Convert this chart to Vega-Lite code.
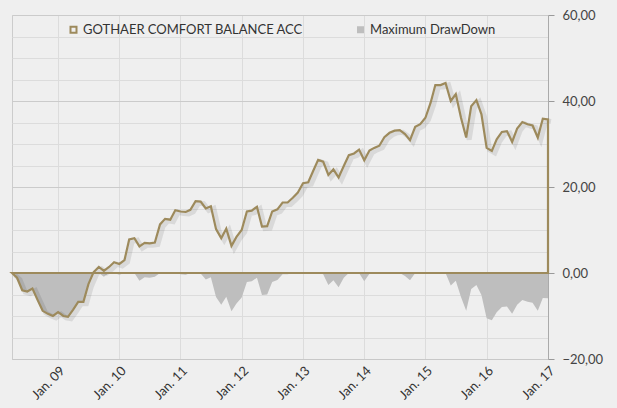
{
  "$schema": "https://vega.github.io/schema/vega-lite/v6.json",
  "width": 536,
  "height": 344,
  "autosize": {"type": "none"},
  "padding": {"left": 12, "top": 15, "right": 69, "bottom": 49},
  "background": "#efefef",
  "config": {
    "font": "Lato",
    "view": {"stroke": "#cccccc", "strokeWidth": 1},
    "legend": {
      "orient": "none",
      "legendX": 55,
      "legendY": 8,
      "direction": "horizontal",
      "padding": 0,
      "labelFontSize": 13,
      "labelLimit": 400,
      "labelColor": "#333333",
      "labelOffset": 3,
      "columnPadding": 50,
      "symbolStrokeWidth": 0
    },
    "axisY": {
      "title": null,
      "labelOverlap": false,
      "labelFontSize": 13,
      "labelColor": "#444444",
      "labelPadding": 8,
      "tickSize": 6,
      "domainColor": "#aaaaaa"
    }
  },
  "data": {
    "values": [
      {"d": "2008-04-01", "fund": 0, "dd": 0},
      {"d": "2008-05-01", "fund": -1.1, "dd": -1.1},
      {"d": "2008-06-01", "fund": -4.0, "dd": -4.0},
      {"d": "2008-07-01", "fund": -4.3, "dd": -4.3},
      {"d": "2008-08-01", "fund": -3.6, "dd": -3.6},
      {"d": "2008-09-01", "fund": -6.3, "dd": -6.3},
      {"d": "2008-10-01", "fund": -8.8, "dd": -8.8},
      {"d": "2008-11-01", "fund": -9.5, "dd": -9.5},
      {"d": "2008-12-01", "fund": -10.0, "dd": -10.0},
      {"d": "2009-01-01", "fund": -9.1, "dd": -9.1},
      {"d": "2009-02-01", "fund": -10.0, "dd": -10.0},
      {"d": "2009-03-01", "fund": -10.2, "dd": -10.2},
      {"d": "2009-04-01", "fund": -8.5, "dd": -8.5},
      {"d": "2009-05-01", "fund": -6.7, "dd": -6.7},
      {"d": "2009-06-01", "fund": -6.7, "dd": -6.7},
      {"d": "2009-07-01", "fund": -2.6, "dd": -2.6},
      {"d": "2009-08-01", "fund": 0.2, "dd": 0},
      {"d": "2009-09-01", "fund": 1.4, "dd": 0},
      {"d": "2009-10-01", "fund": 0.5, "dd": -0.9},
      {"d": "2009-11-01", "fund": 1.4, "dd": 0},
      {"d": "2009-12-01", "fund": 2.5, "dd": 0},
      {"d": "2010-01-01", "fund": 2.1, "dd": -0.4},
      {"d": "2010-02-01", "fund": 3.0, "dd": 0},
      {"d": "2010-03-01", "fund": 7.8, "dd": 0},
      {"d": "2010-04-01", "fund": 8.1, "dd": 0},
      {"d": "2010-05-01", "fund": 6.2, "dd": -1.8},
      {"d": "2010-06-01", "fund": 7.0, "dd": -1.0},
      {"d": "2010-07-01", "fund": 6.9, "dd": -1.1},
      {"d": "2010-08-01", "fund": 7.1, "dd": -0.9},
      {"d": "2010-09-01", "fund": 11.3, "dd": 0},
      {"d": "2010-10-01", "fund": 12.6, "dd": 0},
      {"d": "2010-11-01", "fund": 12.4, "dd": -0.2},
      {"d": "2010-12-01", "fund": 14.6, "dd": 0},
      {"d": "2011-01-01", "fund": 14.3, "dd": -0.3},
      {"d": "2011-02-01", "fund": 14.2, "dd": -0.4},
      {"d": "2011-03-01", "fund": 14.7, "dd": 0},
      {"d": "2011-04-01", "fund": 16.7, "dd": 0},
      {"d": "2011-05-01", "fund": 16.6, "dd": -0.1},
      {"d": "2011-06-01", "fund": 15.0, "dd": -1.5},
      {"d": "2011-07-01", "fund": 15.5, "dd": -1.0},
      {"d": "2011-08-01", "fund": 10.2, "dd": -5.6},
      {"d": "2011-09-01", "fund": 8.1, "dd": -7.4},
      {"d": "2011-10-01", "fund": 10.3, "dd": -5.5},
      {"d": "2011-11-01", "fund": 6.3, "dd": -8.9},
      {"d": "2011-12-01", "fund": 8.4, "dd": -7.1},
      {"d": "2012-01-01", "fund": 10.0, "dd": -5.7},
      {"d": "2012-02-01", "fund": 14.3, "dd": -2.1},
      {"d": "2012-03-01", "fund": 14.5, "dd": -1.9},
      {"d": "2012-04-01", "fund": 15.4, "dd": -1.1},
      {"d": "2012-05-01", "fund": 10.8, "dd": -5.1},
      {"d": "2012-06-01", "fund": 10.9, "dd": -5.0},
      {"d": "2012-07-01", "fund": 14.3, "dd": -2.1},
      {"d": "2012-08-01", "fund": 14.8, "dd": -1.6},
      {"d": "2012-09-01", "fund": 16.4, "dd": -0.3},
      {"d": "2012-10-01", "fund": 16.4, "dd": -0.3},
      {"d": "2012-11-01", "fund": 17.5, "dd": 0},
      {"d": "2012-12-01", "fund": 18.7, "dd": 0},
      {"d": "2013-01-01", "fund": 20.9, "dd": 0},
      {"d": "2013-02-01", "fund": 21.1, "dd": 0},
      {"d": "2013-03-01", "fund": 23.6, "dd": 0},
      {"d": "2013-04-01", "fund": 26.3, "dd": 0},
      {"d": "2013-05-01", "fund": 25.9, "dd": -0.3},
      {"d": "2013-06-01", "fund": 22.8, "dd": -2.8},
      {"d": "2013-07-01", "fund": 24.1, "dd": -1.7},
      {"d": "2013-08-01", "fund": 22.2, "dd": -3.3},
      {"d": "2013-09-01", "fund": 24.9, "dd": -1.1},
      {"d": "2013-10-01", "fund": 27.4, "dd": 0},
      {"d": "2013-11-01", "fund": 27.8, "dd": 0},
      {"d": "2013-12-01", "fund": 28.7, "dd": 0},
      {"d": "2014-01-01", "fund": 26.2, "dd": -1.9},
      {"d": "2014-02-01", "fund": 28.5, "dd": -0.2},
      {"d": "2014-03-01", "fund": 29.1, "dd": 0},
      {"d": "2014-04-01", "fund": 29.6, "dd": 0},
      {"d": "2014-05-01", "fund": 31.6, "dd": 0},
      {"d": "2014-06-01", "fund": 32.6, "dd": 0},
      {"d": "2014-07-01", "fund": 33.1, "dd": 0},
      {"d": "2014-08-01", "fund": 33.2, "dd": 0},
      {"d": "2014-09-01", "fund": 32.3, "dd": -0.7},
      {"d": "2014-10-01", "fund": 30.9, "dd": -1.7},
      {"d": "2014-11-01", "fund": 34.0, "dd": 0},
      {"d": "2014-12-01", "fund": 34.6, "dd": 0},
      {"d": "2015-01-01", "fund": 36.1, "dd": 0},
      {"d": "2015-02-01", "fund": 39.6, "dd": 0},
      {"d": "2015-03-01", "fund": 43.7, "dd": 0},
      {"d": "2015-04-01", "fund": 43.7, "dd": 0},
      {"d": "2015-05-01", "fund": 44.2, "dd": 0},
      {"d": "2015-06-01", "fund": 40.0, "dd": -2.9},
      {"d": "2015-07-01", "fund": 41.6, "dd": -1.8},
      {"d": "2015-08-01", "fund": 36.1, "dd": -5.6},
      {"d": "2015-09-01", "fund": 31.5, "dd": -8.8},
      {"d": "2015-10-01", "fund": 38.8, "dd": -3.7},
      {"d": "2015-11-01", "fund": 40.2, "dd": -2.8},
      {"d": "2015-12-01", "fund": 36.9, "dd": -5.1},
      {"d": "2016-01-01", "fund": 29.1, "dd": -10.5},
      {"d": "2016-02-01", "fund": 28.4, "dd": -11.0},
      {"d": "2016-03-01", "fund": 31.1, "dd": -9.1},
      {"d": "2016-04-01", "fund": 32.8, "dd": -7.9},
      {"d": "2016-05-01", "fund": 33.0, "dd": -7.8},
      {"d": "2016-06-01", "fund": 30.5, "dd": -9.5},
      {"d": "2016-07-01", "fund": 33.6, "dd": -7.4},
      {"d": "2016-08-01", "fund": 35.1, "dd": -6.3},
      {"d": "2016-09-01", "fund": 34.6, "dd": -6.7},
      {"d": "2016-10-01", "fund": 34.3, "dd": -6.9},
      {"d": "2016-11-01", "fund": 31.5, "dd": -8.8},
      {"d": "2016-12-01", "fund": 35.9, "dd": -5.8},
      {"d": "2017-01-01", "fund": 35.7, "dd": -5.9}
    ]
  },
  "encoding": {
    "x": {
      "field": "d",
      "type": "temporal",
      "scale": {
        "type": "utc",
        "domain": [
          {"year": 2008, "month": "apr", "date": 1, "utc": true},
          {"year": 2017, "month": "jan", "date": 1, "utc": true}
        ]
      },
      "axis": {
        "title": null,
        "format": "%b. %y",
        "labelAngle": -45,
        "tickCount": {"interval": "year", "step": 1},
        "grid": true,
        "gridColor": "#dcdcdc",
        "domainColor": "#c8c8c8",
        "ticks": false,
        "labelFontSize": 13,
        "labelColor": "#333333",
        "labelPadding": 5,
        "labelOverlap": false,
        "labelBound": false,
        "labelFlush": false
      }
    }
  },
  "layer": [
    {
      "mark": {"type": "area", "opacity": 1},
      "encoding": {
        "y": {
          "field": "dd",
          "type": "quantitative",
          "scale": {"domain": [-20, 60], "nice": false},
          "axis": {
            "orient": "right",
            "values": [-20, -15, -10, -5, 0, 5, 10, 15, 20, 25, 30, 35, 40, 45, 50, 55, 60],
            "labelExpr": "datum.value % 20 === 0 ? replace(format(datum.value, '.2f'), '.', ',') : ''",
            "tickColor": {"condition": {"test": "datum.value % 20 === 0", "value": "#999999"}, "value": "transparent"},
            "gridColor": {"condition": {"test": "datum.value % 20 === 0", "value": "#cbcbcb"}, "value": "#dcdcdc"}
          }
        },
        "color": {
          "datum": "Maximum DrawDown",
          "scale": {
            "domain": ["GOTHAER COMFORT BALANCE ACC", "Maximum DrawDown"],
            "range": ["#9d8a5c", "#bebebe"]
          },
          "legend": {
            "title": null,
            "symbolType": "square",
            "encode": {
              "symbols": {
                "update": {
                  "shape": {"signal": "datum.value === 'Maximum DrawDown' ? 'square' : 'M-1,-1H1V1H-1Z M-0.5,-0.5V0.5H0.5V-0.5Z'"},
                  "size": {"signal": "datum.value === 'Maximum DrawDown' ? 49 : 64"},
                  "strokeWidth": {"value": 0}
                }
              }
            }
          }
        }
      }
    },
    {
      "mark": {"type": "line", "color": "#000000", "opacity": 0.09, "strokeWidth": 5, "xOffset": 3, "yOffset": 2},
      "encoding": {
        "y": {
          "field": "fund",
          "type": "quantitative",
          "scale": {"domain": [-20, 60], "nice": false},
          "axis": {
            "orient": "right",
            "values": [-20, -15, -10, -5, 0, 5, 10, 15, 20, 25, 30, 35, 40, 45, 50, 55, 60],
            "labelExpr": "datum.value % 20 === 0 ? replace(format(datum.value, '.2f'), '.', ',') : ''",
            "tickColor": {"condition": {"test": "datum.value % 20 === 0", "value": "#999999"}, "value": "transparent"},
            "gridColor": {"condition": {"test": "datum.value % 20 === 0", "value": "#cbcbcb"}, "value": "#dcdcdc"}
          }
        }
      }
    },
    {
      "mark": {"type": "area", "filled": false, "strokeWidth": 2.2},
      "encoding": {
        "y": {
          "field": "fund",
          "type": "quantitative",
          "scale": {"domain": [-20, 60], "nice": false},
          "axis": {
            "orient": "right",
            "values": [-20, -15, -10, -5, 0, 5, 10, 15, 20, 25, 30, 35, 40, 45, 50, 55, 60],
            "labelExpr": "datum.value % 20 === 0 ? replace(format(datum.value, '.2f'), '.', ',') : ''",
            "tickColor": {"condition": {"test": "datum.value % 20 === 0", "value": "#999999"}, "value": "transparent"},
            "gridColor": {"condition": {"test": "datum.value % 20 === 0", "value": "#cbcbcb"}, "value": "#dcdcdc"}
          }
        },
        "color": {
          "datum": "GOTHAER COMFORT BALANCE ACC",
          "scale": {
            "domain": ["GOTHAER COMFORT BALANCE ACC", "Maximum DrawDown"],
            "range": ["#9d8a5c", "#bebebe"]
          },
          "legend": {
            "title": null,
            "symbolType": "square",
            "encode": {
              "symbols": {
                "update": {
                  "shape": {"signal": "datum.value === 'Maximum DrawDown' ? 'square' : 'M-1,-1H1V1H-1Z M-0.5,-0.5V0.5H0.5V-0.5Z'"},
                  "size": {"signal": "datum.value === 'Maximum DrawDown' ? 49 : 64"},
                  "strokeWidth": {"value": 0}
                }
              }
            }
          }
        }
      }
    }
  ]
}
